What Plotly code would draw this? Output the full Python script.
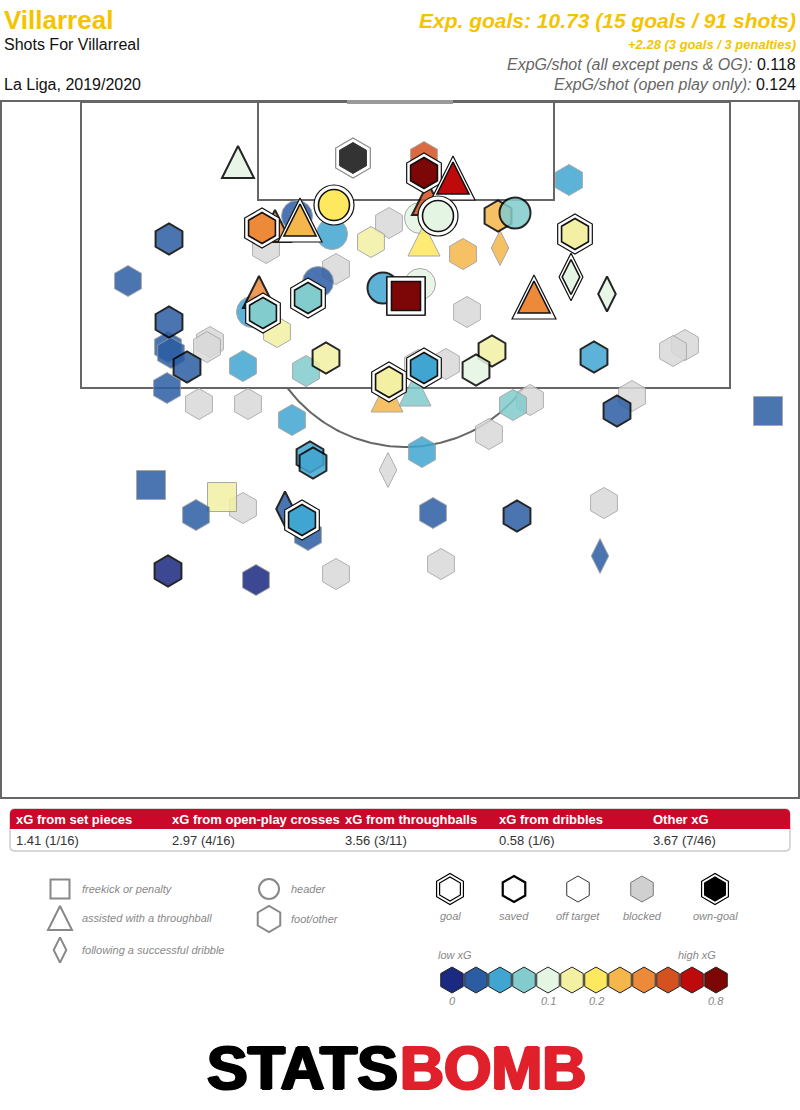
import numpy as np
import plotly.graph_objects as go

# ---------------- data ----------------
team = "Villarreal"
subtitle = "Shots For Villarreal"
competition = "La Liga, 2019/2020"
total_xg, total_goals, total_shots = 10.73, 15, 91
pen_xg, pen_goals, pen_shots = 2.28, 3, 3
xg_shot_all, xg_shot_open = 0.118, 0.124

table_headers = ["xG from set pieces", "xG from open-play crosses", "xG from throughballs",
                 "xG from dribbles", "Other xG"]
table_values = ["1.41 (1/16)", "2.97 (4/16)", "3.56 (3/11)", "0.58 (1/6)", "3.67 (7/46)"]

# shot locations in pitch-panel units (x across, y down from the goal line at the top)
shot_x = [389, 266, 336, 467, 210, 207, 199, 248, 418, 446, 685, 673, 530, 632, 489, 388, 243, 604, 336, 441,
          424, 420, 424, 463, 500, 569, 420, 371, 332, 297, 128, 318, 252, 277, 168, 171, 243, 306, 167, 292,
          387, 415, 513, 768, 422, 151, 222, 196, 308, 433, 600, 256,
          238, 428, 498, 515, 607, 383, 275, 169, 259, 169, 187, 326, 492, 476, 594, 617, 310, 313, 285, 517, 168,
          424, 453, 438, 575, 571, 534, 406, 406, 406, 334, 300, 262, 308, 263, 389, 424, 302,
          353]
shot_y = [223, 248, 269, 312, 342, 347, 404, 404, 365, 364, 345, 351, 400, 396, 434, 470, 508, 503, 574, 564,
          157, 218, 240, 254, 248, 180, 284, 242, 234, 216, 281, 282, 312, 332, 347, 353, 366, 371, 388, 420,
          396, 390, 405, 411, 452, 485, 497, 515, 535, 513, 556, 580,
          162, 199, 216, 213, 294, 288, 226, 239, 292, 322, 367, 358, 351, 370, 357, 411, 457, 463, 509, 516, 571,
          173, 178, 216, 234, 277, 297, 296, 296, 296, 205, 220, 228, 298, 313, 382, 368, 520,
          158]
shot_xg = [0.12, 0.08, 0.09, 0.07, 0.03, 0.03, 0.03, 0.03, 0.06, 0.06, 0.02, 0.02, 0.04, 0.02, 0.03, 0.03, 0.02, 0.02, 0.02, 0.02,
           0.57, 0.12, 0.25, 0.35, 0.35, 0.06, 0.12, 0.17, 0.06, 0.035, 0.035, 0.035, 0.06, 0.17, 0.035, 0.035, 0.06, 0.085, 0.035, 0.06,
           0.35, 0.085, 0.085, 0.035, 0.06, 0.04, 0.17, 0.035, 0.035, 0.035, 0.035, 0.015,
           0.12, 0.57, 0.35, 0.085, 0.12, 0.06, 0.45, 0.035, 0.45, 0.035, 0.04, 0.17, 0.16, 0.12, 0.06, 0.035, 0.06, 0.06, 0.035, 0.035, 0.015,
           0.85, 0.7, 0.12, 0.17, 0.12, 0.45, 0.76, 0.76, 0.76, 0.25, 0.35, 0.45, 0.085, 0.085, 0.17, 0.06, 0.06,
           0.0]
shot_kind = (["foot"] * 15 + ["dribble"] + ["foot"] * 4 +
             ["foot", "header", "throughball", "foot", "dribble", "foot", "header", "foot", "header", "header",
              "foot", "header", "header", "foot", "foot", "foot", "foot", "foot", "foot", "foot",
              "throughball", "throughball", "foot", "setpiece", "foot", "setpiece", "setpiece", "foot", "foot", "foot",
              "dribble", "foot"] +
             ["throughball", "throughball", "foot", "header", "dribble", "header", "throughball", "foot", "throughball",
              "foot", "foot", "foot", "foot", "foot", "foot", "foot", "foot", "foot", "dribble", "foot", "foot"] +
             ["foot", "throughball", "header", "foot", "dribble", "throughball", "setpiece", "setpiece", "setpiece",
              "header", "throughball", "foot", "foot", "foot", "foot", "foot", "foot"] +
             ["foot"])
shot_outcome = ["blocked"] * 20 + ["off"] * 32 + ["saved"] * 21 + ["goal"] * 17 + ["own"]

xg_edges = [0.025, 0.05, 0.075, 0.1, 0.15, 0.2, 0.3, 0.4, 0.5, 0.65, 0.75]
palette = ["#1b2a80", "#2c5da3", "#41a5d1", "#82cccd", "#e5f5e3", "#f3f0a3",
           "#fde85f", "#f5b64b", "#ec8a3a", "#d4521f", "#be0a0a", "#7d0606"]
scale_labels = {0: "0", 4: "0.1", 6: "0.2", 11: "0.8"}

# ---------------- helpers ----------------
FONT = "Liberation Sans, Arial, sans-serif"
NARROW = "Liberation Sans Narrow, Liberation Sans, Arial, sans-serif"
SYMBOL = {"foot": "hexagon", "header": "circle", "throughball": "arrow-up",
          "dribble": "diamond-tall", "setpiece": "square"}
SIZE = {"foot": 31, "header": 31, "throughball": 32, "dribble": 25, "setpiece": 29}
RING = {"foot": 9, "header": 9, "throughball": 12, "dribble": 9, "setpiece": 9}


def xg_color(v):
    return palette[int(np.searchsorted(xg_edges, v, side="right"))]


def y_draw(i, size):
    # 'arrow-up' is anchored at its apex: shift it so the triangle is centred on the shot
    return shot_y[i] - size / 2 if SYMBOL[shot_kind[i]] == "arrow-up" else shot_y[i]


fig = go.Figure()

# ---------------- pitch ----------------
line_col = "#666666"
shapes = [
    dict(type="rect", x0=1, y0=101, x1=799, y1=798, line=dict(color=line_col, width=2), layer="below"),
    dict(type="rect", x0=81, y0=102, x1=730, y1=388, line=dict(color=line_col, width=2), layer="below"),
    dict(type="rect", x0=258, y0=102, x1=554, y1=200, line=dict(color=line_col, width=2), layer="below"),
    dict(type="line", x0=347, y0=102, x1=453, y1=102, line=dict(color="#9a9a9a", width=4), layer="below"),
]
ang = np.linspace(np.arccos(118 / 147.5), np.pi - np.arccos(118 / 147.5), 80)
fig.add_trace(go.Scatter(x=405.5 + 147.5 * np.cos(ang), y=299.5 + 147.5 * np.sin(ang), mode="lines",
                         line=dict(color=line_col, width=2), hoverinfo="skip", showlegend=False))


def add_group(idx, fill, line_color, line_width, opacity, extra=0):
    sizes = [SIZE[shot_kind[i]] + (RING[shot_kind[i]] if extra else 0) for i in idx]
    fig.add_trace(go.Scatter(
        x=[shot_x[i] for i in idx], y=[y_draw(i, s) for i, s in zip(idx, sizes)], mode="markers",
        marker=dict(symbol=[SYMBOL[shot_kind[i]] for i in idx], size=sizes,
                    color=fill if isinstance(fill, str) else [fill(i) for i in idx],
                    opacity=opacity, line=dict(color=line_color, width=line_width)),
        hoverinfo="skip", showlegend=False))


n = len(shot_x)
blocked = [i for i in range(n) if shot_outcome[i] == "blocked"]
off = [i for i in range(n) if shot_outcome[i] == "off"]
saved = [i for i in range(n) if shot_outcome[i] == "saved"]
goal = [i for i in range(n) if shot_outcome[i] == "goal"]
own = [i for i in range(n) if shot_outcome[i] == "own"]

add_group(blocked, "#d9d9d9", "#a3a3a3", 1, 0.85)
add_group(off, lambda i: xg_color(shot_xg[i]), "#9a9a9a", 1, 0.85)
add_group(saved, lambda i: xg_color(shot_xg[i]), "#000000", 2, 0.85)
for i in goal:
    add_group([i], "#ffffff", "#111111", 1.2, 1, extra=1)
    add_group([i], xg_color(shot_xg[i]), "#111111", 1.6, 1)
add_group(own, "#ffffff", "#8a8a8a", 1.2, 1, extra=1)
add_group(own, "#333333", "#333333", 1, 1)

# ---------------- header text ----------------
ann = []
ann.append(dict(x=2, y=20, text="<b>%s</b>" % team, xanchor="left", yanchor="middle",
                font=dict(family=FONT, size=26, color="#f5c400")))
ann.append(dict(x=2, y=44, text=subtitle, xanchor="left", yanchor="middle",
                font=dict(family=FONT, size=16, color="#111111")))
ann.append(dict(x=2, y=84, text=competition, xanchor="left", yanchor="middle",
                font=dict(family=FONT, size=16, color="#111111")))
ann.append(dict(x=798, y=20, xanchor="right", yanchor="middle",
                text="<b><i>Exp. goals: %.2f (%d goals / %d shots)</i></b>" % (total_xg, total_goals, total_shots),
                font=dict(family=FONT, size=21, color="#f5c400")))
ann.append(dict(x=798, y=44, xanchor="right", yanchor="middle",
                text="<b><i>+%.2f (%d goals / %d penalties)</i></b>" % (pen_xg, pen_goals, pen_shots),
                font=dict(family=FONT, size=13, color="#f5c400")))
ann.append(dict(x=798, y=64, xanchor="right", yanchor="middle",
                text="<i><span style='color:#666666'>ExpG/shot (all except pens &amp; OG):</span></i> %.3f" % xg_shot_all,
                font=dict(family=FONT, size=16, color="#111111")))
ann.append(dict(x=798, y=84, xanchor="right", yanchor="middle",
                text="<i><span style='color:#666666'>ExpG/shot (open play only):</span></i> %.3f" % xg_shot_open,
                font=dict(family=FONT, size=16, color="#111111")))

# ---------------- table ----------------
shapes.append(dict(type="path", path="M 15,809 L 785,809 Q 790,809 790,814 L 790,846 Q 790,851 785,851 "
                                     "L 15,851 Q 10,851 10,846 L 10,814 Q 10,809 15,809 Z",
                   line=dict(color="#cccccc", width=1.5), fillcolor="white", layer="below"))
shapes.append(dict(type="path", path="M 15,809 L 785,809 Q 790,809 790,814 L 790,829 L 10,829 L 10,814 Q 10,809 15,809 Z",
                   line=dict(width=0), fillcolor="#c9082a", layer="below"))
col_x = [14, 170, 343, 497, 651]
for cx, h, v in zip(col_x, table_headers, table_values):
    ann.append(dict(x=cx, y=819, text="<b>%s</b>" % h, xanchor="left", yanchor="middle",
                    font=dict(family=FONT, size=13, color="white")))
    ann.append(dict(x=cx, y=840, text=v, xanchor="left", yanchor="middle",
                    font=dict(family=FONT, size=13, color="#333333")))

# ---------------- legends ----------------
grey = "#888888"
kind_legend = [("setpiece", 60, 889, 19, "freekick or penalty"),
               ("throughball", 60, 918, 24, "assisted with a throughball"),
               ("dribble", 60, 950, 18, "following a successful dribble"),
               ("header", 269, 889, 20, "header"),
               ("foot", 269, 919, 26, "foot/other")]
for k, lx, ly, sz, label in kind_legend:
    my = ly - sz / 2 if SYMBOL[k] == "arrow-up" else ly
    fig.add_trace(go.Scatter(x=[lx], y=[my], mode="markers", hoverinfo="skip", showlegend=False,
                             marker=dict(symbol=SYMBOL[k], size=sz, color="white", line=dict(color=grey, width=2))))
    ann.append(dict(x=lx + 20, y=ly, text="<i>%s</i>" % label, xanchor="left", yanchor="middle",
                    font=dict(family=NARROW, size=11, color=grey)))

out_x = {"goal": 450, "saved": 514, "off target": 578, "blocked": 642, "own-goal": 715}
oy = 889
fig.add_trace(go.Scatter(x=[out_x["goal"], out_x["own-goal"]], y=[oy, oy], mode="markers", hoverinfo="skip",
                         showlegend=False, marker=dict(symbol="hexagon", size=31, color="white",
                                                       line=dict(color="black", width=1.2))))
fig.add_trace(go.Scatter(x=[out_x["goal"]], y=[oy], mode="markers", hoverinfo="skip", showlegend=False,
                         marker=dict(symbol="hexagon", size=24, color="white", line=dict(color="black", width=1.2))))
fig.add_trace(go.Scatter(x=[out_x["own-goal"]], y=[oy], mode="markers", hoverinfo="skip", showlegend=False,
                         marker=dict(symbol="hexagon", size=24, color="black", line=dict(color="black", width=1.2))))
fig.add_trace(go.Scatter(x=[out_x["saved"]], y=[oy], mode="markers", hoverinfo="skip", showlegend=False,
                         marker=dict(symbol="hexagon", size=26, color="white", line=dict(color="black", width=2.2))))
fig.add_trace(go.Scatter(x=[out_x["off target"]], y=[oy], mode="markers", hoverinfo="skip", showlegend=False,
                         marker=dict(symbol="hexagon", size=26, color="white", line=dict(color="black", width=0.8))))
fig.add_trace(go.Scatter(x=[out_x["blocked"]], y=[oy], mode="markers", hoverinfo="skip", showlegend=False,
                         marker=dict(symbol="hexagon", size=26, color="#d0d0d0", line=dict(color="#777777", width=1))))
for lab, lx in out_x.items():
    ann.append(dict(x=lx, y=916, text="<i>%s</i>" % lab, xanchor="center", yanchor="middle",
                    font=dict(family=NARROW, size=11, color=grey)))

sx = [452 + 24 * i for i in range(len(palette))]
fig.add_trace(go.Scatter(x=sx, y=[980] * len(sx), mode="markers", hoverinfo="skip", showlegend=False,
                         marker=dict(symbol="hexagon", size=26, color=palette, line=dict(color="#222222", width=1))))
for i, lab in scale_labels.items():
    ann.append(dict(x=sx[i], y=1001, text="<i>%s</i>" % lab, xanchor="center", yanchor="middle",
                    font=dict(family=NARROW, size=11, color=grey)))
ann.append(dict(x=455, y=955, text="<i>low xG</i>", xanchor="center", yanchor="middle",
                font=dict(family=NARROW, size=11, color=grey)))
ann.append(dict(x=697, y=955, text="<i>high xG</i>", xanchor="center", yanchor="middle",
                font=dict(family=NARROW, size=11, color=grey)))

# ---------------- logo ----------------
ann.append(dict(x=400, y=1068, text="<b>STATS</b>", xanchor="right", yanchor="middle",
                font=dict(family=FONT, size=61, color="#000000",
                          shadow="1.5px 0px 0px #000, -1.5px 0px 0px #000, 0px 1px 0px #000, 0px -1px 0px #000")))
ann.append(dict(x=398, y=1068, text="<b>BOMB</b>", xanchor="left", yanchor="middle",
                font=dict(family=FONT, size=61, color="#e0202b",
                          shadow="1.5px 0px 0px #e0202b, -1.5px 0px 0px #e0202b, 0px 1px 0px #e0202b, 0px -1px 0px #e0202b")))

for a in ann:
    a.update(xref="x", yref="y", showarrow=False)

fig.update_layout(
    width=800, height=1110, autosize=False,
    margin=dict(l=0, r=0, t=0, b=0, pad=0),
    paper_bgcolor="white", plot_bgcolor="white",
    xaxis=dict(range=[0, 800], visible=False, fixedrange=True),
    yaxis=dict(range=[1110, 0], visible=False, fixedrange=True),
    shapes=shapes, annotations=ann, showlegend=False,
)
fig.write_html("out.html", config={"displayModeBar": False},
               post_script="document.body.style.margin='0px';")
